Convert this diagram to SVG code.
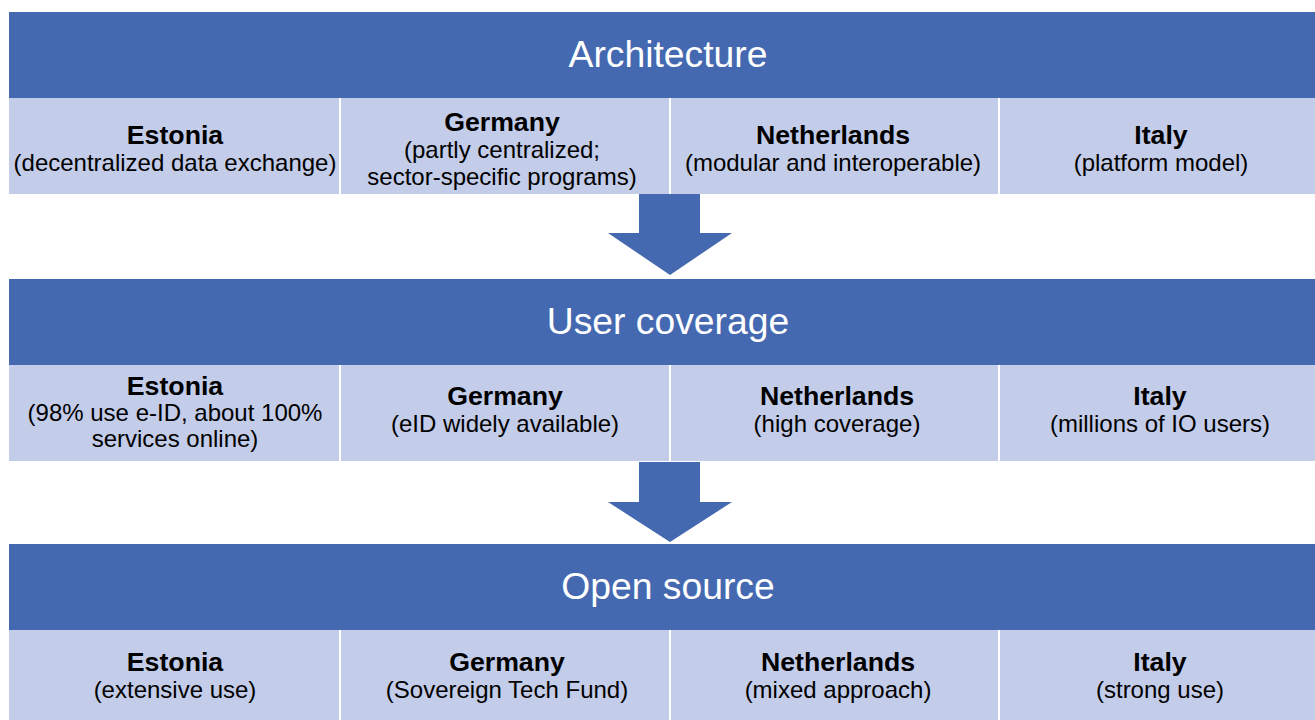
<svg xmlns="http://www.w3.org/2000/svg" width="1315" height="720" viewBox="0 0 1315 720">
<style>
.hdr{fill:#4469B0}
.cell{fill:#C3CCE8}
.sep{stroke:#ffffff;stroke-width:2}
.ht{font-family:"Liberation Sans",Arial,sans-serif;font-size:37.3px;fill:#ffffff;text-anchor:middle}
.t{font-family:"Liberation Sans",Arial,sans-serif;font-size:26.7px;font-weight:bold;fill:#000;text-anchor:middle}
.b{font-family:"Liberation Sans",Arial,sans-serif;font-size:24px;fill:#000;text-anchor:middle}
.arrow{fill:#4469B0}
</style>
<rect x="0" y="0" width="1315" height="720" fill="#ffffff"/>

<g id="architecture">
<rect class="hdr" x="9" y="12" width="1306" height="86"/>
<text class="ht" x="668" y="67">Architecture</text>
</g>
<g id="arch-cells">
<rect class="cell" x="9" y="98" width="1306" height="96"/>
<line class="sep" x1="340" y1="98" x2="340" y2="194"/>
<line class="sep" x1="670" y1="98" x2="670" y2="194"/>
<line class="sep" x1="999" y1="98" x2="999" y2="194"/>
</g>
<g id="arch-estonia"><text class="t" x="175" y="144">Estonia</text><text class="b" x="175" y="171">(decentralized data exchange)</text></g>
<g id="arch-germany"><text class="t" x="502" y="131">Germany</text><text class="b" x="502" y="158">(partly centralized;</text><text class="b" x="502" y="185">sector-specific programs)</text></g>
<g id="arch-netherlands"><text class="t" x="833" y="144">Netherlands</text><text class="b" x="833" y="171">(modular and interoperable)</text></g>
<g id="arch-italy"><text class="t" x="1161" y="144">Italy</text><text class="b" x="1161" y="171">(platform model)</text></g>

<g id="usercoverage">
<rect class="hdr" x="9" y="279" width="1306" height="86"/>
<text class="ht" x="668" y="334">User coverage</text>
</g>
<g id="user-cells">
<rect class="cell" x="9" y="365" width="1306" height="96"/>
<line class="sep" x1="340" y1="365" x2="340" y2="461"/>
<line class="sep" x1="670" y1="365" x2="670" y2="461"/>
<line class="sep" x1="999" y1="365" x2="999" y2="461"/>
</g>
<g id="user-estonia"><text class="t" x="175" y="395">Estonia</text><text class="b" x="175" y="421">(98% use e-ID, about 100%</text><text class="b" x="175" y="447">services online)</text></g>
<g id="user-germany"><text class="t" x="505" y="405">Germany</text><text class="b" x="505" y="432">(eID widely available)</text></g>
<g id="user-netherlands"><text class="t" x="837" y="405">Netherlands</text><text class="b" x="837" y="432">(high coverage)</text></g>
<g id="user-italy"><text class="t" x="1160" y="405">Italy</text><text class="b" x="1160" y="432">(millions of IO users)</text></g>

<g id="opensource">
<rect class="hdr" x="9" y="544" width="1306" height="86"/>
<text class="ht" x="668" y="599">Open source</text>
</g>
<g id="os-cells">
<rect class="cell" x="9" y="630" width="1306" height="90"/>
<line class="sep" x1="340" y1="630" x2="340" y2="720"/>
<line class="sep" x1="670" y1="630" x2="670" y2="720"/>
<line class="sep" x1="999" y1="630" x2="999" y2="720"/>
</g>
<g id="os-estonia"><text class="t" x="175" y="671">Estonia</text><text class="b" x="175" y="698">(extensive use)</text></g>
<g id="os-germany"><text class="t" x="507" y="671">Germany</text><text class="b" x="507" y="698">(Sovereign Tech Fund)</text></g>
<g id="os-netherlands"><text class="t" x="838" y="671">Netherlands</text><text class="b" x="838" y="698">(mixed approach)</text></g>
<g id="os-italy"><text class="t" x="1160" y="671">Italy</text><text class="b" x="1160" y="698">(strong use)</text></g>

<g id="connectors">
<polygon class="arrow" points="639,194 700,194 700,233 732,233 670,275 608,233 639,233"/>
<polygon class="arrow" points="639,462 700,462 700,502 732,502 670,542 608,502 639,502"/>
</g>
</svg>
